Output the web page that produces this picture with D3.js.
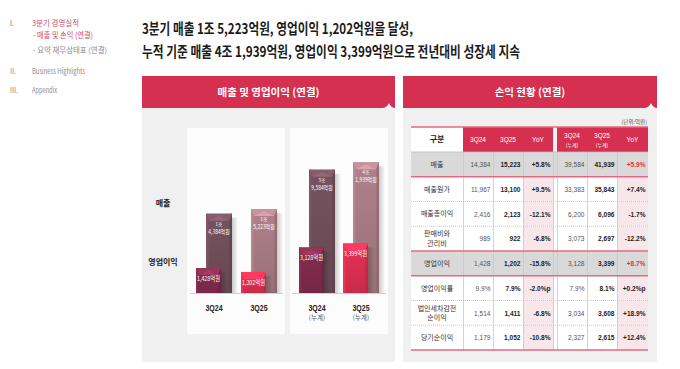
<!DOCTYPE html>
<html><head><meta charset="utf-8">
<script src="https://cdn.jsdelivr.net/npm/d3@7"></script>
<style>
body{margin:0;background:#fff;}
svg{display:block;font-family:"Noto Sans CJK KR","Noto Sans",sans-serif;}
.num{font-family:"Liberation Sans",Arial,sans-serif;}
</style>
</head><body><svg id="c" width="680" height="369"></svg>
<script>
// ---------- DATA ----------
const barCategories = ["3Q24", "3Q25", "3Q24", "3Q25"];
const barSubLabels = ["", "", "(누계)", "(누계)"];
const revenue = [14384, 15223, 39584, 41939];
const operatingProfit = [1428, 1202, 3128, 3399];
const revenueLabelTop = ["1조", "1조", "3조", "4조"];
const revenueLabelBottom = ["4,384억원", "5,223억원", "9,584억원", "1,939억원"];
const opLabels = ["1,428억원", "1,202억원", "3,128억원", "3,399억원"];

const tableHeaders = ["구분", "3Q24", "3Q25", "YoY", "3Q24", "3Q25", "YoY"];
const tableHeaderSubs = ["", "", "", "", "(누계)", "(누계)", ""];
const rowItems = ["매출", "매출원가", "매출총이익", "판매비와\n관리비", "영업이익", "영업이익률", "법인세차감전\n순이익", "당기순이익"];
const col3Q24 = ["14,384", "11,967", "2,416", "989", "1,428", "9.9%", "1,514", "1,179"];
const col3Q25 = ["15,223", "13,100", "2,123", "922", "1,202", "7.9%", "1,411", "1,052"];
const colYoY = ["+5.8%", "+9.5%", "-12.1%", "-6.8%", "-15.8%", "-2.0%p", "-6.8%", "-10.8%"];
const colCum3Q24 = ["39,584", "33,383", "6,200", "3,073", "3,128", "7.9%", "3,034", "2,327"];
const colCum3Q25 = ["41,939", "35,843", "6,096", "2,697", "3,399", "8.1%", "3,608", "2,615"];
const colCumYoY = ["+5.9%", "+7.4%", "-1.7%", "-12.2%", "+8.7%", "+0.2%p", "+18.9%", "+12.4%"];

const navItems = [
  {num: "I.", text: "3분기 경영실적", color: "#cf4a6d"},
  {num: "", text: "- 매출 및 손익 (연결)", color: "#cf4a6d"},
  {num: "", text: "- 요약 재무상태표 (연결)", color: "#8a8a8a"},
  {num: "II.", text: "Business Highlights", color: "#8a8a8a"},
  {num: "III.", text: "Appendix", color: "#8a8a8a"}
];
const titleLines = [
  "3분기 매출 1조 5,223억원, 영업이익 1,202억원을 달성,",
  "누적 기준 매출 4조 1,939억원, 영업이익 3,399억원으로 전년대비 성장세 지속"
];

// ---------- DRAW ----------
const svg = d3.select("#c");
const defs = svg.append("defs");
const RED = "#d5304f";

// narrow text helper (horizontally condensed)
function narrow(x, y, txt, size, anchor, opts = {}) {
  const t = svg.append("text").attr("class", opts.cls || "num")
    .attr("transform", `translate(${x},${y}) scale(${opts.sx || 0.82},1)`)
    .attr("text-anchor", anchor).attr("font-size", size)
    .attr("font-weight", opts.bold ? 700 : 400).attr("fill", opts.fill || "#222").text(txt);
  return t;
}

// nav
const navY = [26, 38, 53, 74, 93];
const navX = [32, 33, 33, 32, 32];
const navW = [47, 60, 74, 53, 25];
navItems.forEach((d, i) => {
  if (d.num) svg.append("text").attr("x", 10).attr("y", navY[i]).attr("font-size", 7).attr("fill", d.color).text(d.num);
  svg.append("text").attr("x", navX[i]).attr("y", navY[i]).attr("font-size", 7.5)
    .attr("fill", d.color).attr("textLength", navW[i]).attr("lengthAdjust", "spacingAndGlyphs").text(d.text);
});

// title
const titleW = [271, 378];
titleLines.forEach((t, i) => {
  svg.append("text").attr("x", 142).attr("y", 34 + i * 23).attr("font-size", 14.5).attr("font-weight", 700)
    .attr("fill", "#1b1b1b").attr("textLength", titleW[i]).attr("lengthAdjust", "spacingAndGlyphs").text(t);
});

// panels
function panel(x, w, title) {
  svg.append("rect").attr("x", x).attr("y", 108).attr("width", w).attr("height", 254).attr("fill", "#f0f0f0");
  svg.append("rect").attr("x", x).attr("y", 76).attr("width", w).attr("height", 32).attr("fill", RED);
  svg.append("path").attr("d", `M${x + w - 13},108 Q${x + w - 8},108 ${x + w - 6},103 Q${x + w - 4},108 ${x + w},108 Z`).attr("fill", "#fff");
  svg.append("text").attr("x", x + w / 2).attr("y", 96).attr("text-anchor", "middle").attr("font-size", 10.5)
    .attr("font-weight", 700).attr("fill", "#fff").text(title);
}
panel(142, 253, "매출 및 영업이익 (연결)");
panel(403, 254, "손익 현황 (연결)");

// inner white panels
[[187, 98], [290, 98]].forEach(([x, w]) => {
  svg.append("rect").attr("x", x).attr("y", 128).attr("width", w).attr("height", 206).attr("fill", "#fcfcfc");
});
const base = 293;
[[190, 93], [292, 94]].forEach(([x, w]) => {
  svg.append("line").attr("x1", x).attr("x2", x + w).attr("y1", base + 0.5).attr("y2", base + 0.5).attr("stroke", "#cfcfcf");
});

svg.append("text").attr("x", 163).attr("y", 206).attr("text-anchor", "middle").attr("font-size", 8).attr("font-weight", 700).attr("fill", "#222").text("매출");
svg.append("text").attr("x", 163).attr("y", 265).attr("text-anchor", "middle").attr("font-size", 8).attr("font-weight", 700).attr("fill", "#222").text("영업이익");

// scales
const xQ = d3.scalePoint().domain([0, 1]).range([214, 259]);
const xC = d3.scalePoint().domain([2, 3]).range([317, 361]);
const xPos = i => (i < 2 ? xQ(i) : xC(i));
const yRevQ = d3.scaleLinear().domain([0, 15600]).range([base, 207]);
const yRevC = d3.scaleLinear().domain([0, 43000]).range([base, 159]);
const yOpQ = d3.scaleLinear().domain([0, 1428]).range([base, 268]);
const yOpC = d3.scaleLinear().domain([0, 3500]).range([base, 242]);
const yRev = i => (i < 2 ? yRevQ : yRevC)(revenue[i]);
const yOp = i => (i < 2 ? yOpQ : yOpC)(operatingProfit[i]);

const revColors = ["#6c4b57", "#a1767f", "#6c4b57", "#a1767f"];
const opColors = ["#7b2949", "#d42d4d", "#7b2949", "#d42d4d"];

// shadow gradient
const sg = defs.append("linearGradient").attr("id", "shadow");
sg.append("stop").attr("offset", 0).attr("stop-color", "#000").attr("stop-opacity", 0.2);
sg.append("stop").attr("offset", 1).attr("stop-color", "#000").attr("stop-opacity", 0);

let gid = 0;
function bar(x0, w, top, color) {
  const id = "g" + (gid++);
  const c = d3.color(color);
  const gr = defs.append("linearGradient").attr("id", id).attr("x1", 0).attr("x2", 0).attr("y1", 0).attr("y2", 1);
  gr.append("stop").attr("offset", 0).attr("stop-color", c.brighter(0.25));
  gr.append("stop").attr("offset", 1).attr("stop-color", c.darker(0.15));
  const x1 = x0 + w, b = 7;
  svg.append("rect").attr("x", x1).attr("y", top + 4).attr("width", 6).attr("height", base - top - 4).attr("fill", "url(#shadow)");
  svg.append("rect").attr("x", x0).attr("y", top).attr("width", w).attr("height", base - top).attr("fill", `url(#${id})`);
  svg.append("rect").attr("x", x0).attr("y", top).attr("width", 2.5).attr("height", base - top).attr("fill", c.brighter(0.5)).attr("opacity", 0.6);
  svg.append("rect").attr("x", x1 - 2.5).attr("y", top).attr("width", 2.5).attr("height", base - top).attr("fill", c.darker(0.5)).attr("opacity", 0.6);
  svg.append("path").attr("d", `M${x0},${top}L${x1},${top}L${x1 - 3},${top + b}L${x0 + 3},${top + b}Z`).attr("fill", c.brighter(0.6));
  svg.append("path").attr("d", `M${x0 + 3},${top + b}L${x0 + w / 2},${top + 2}L${x1 - 3},${top + b}Z`).attr("fill", c.brighter(1.0)).attr("opacity", 0.7);
}

revenue.forEach((v, i) => {
  const cx = xPos(i);
  // revenue bar (behind)
  const rx = cx - 8, rw = 26, rt = yRev(i);
  bar(rx, rw, rt, revColors[i]);
  svg.append("text").attr("x", rx + rw / 2).attr("y", rt + 12).attr("text-anchor", "middle").attr("font-size", 5).attr("fill", "#fff").text(revenueLabelTop[i]);
  narrow(rx + rw / 2, rt + 20, revenueLabelBottom[i], 6, "middle", {fill: "#fff", cls: "lbl"});
  // op bar (front)
  const ox = cx - 18, ow = 25, ot = yOp(i);
  bar(ox, ow, ot, opColors[i]);
  narrow(ox + ow / 2, Math.min(ot + 13, (ot + base) / 2 + 3), opLabels[i], 6.5, "middle", {fill: "#fff", cls: "lbl"});
  // category labels
  narrow(cx, 311, barCategories[i], 8.5, "middle", {bold: true, fill: "#222"});
  if (barSubLabels[i]) svg.append("text").attr("x", cx).attr("y", 320).attr("text-anchor", "middle").attr("font-size", 6.5).attr("fill", "#555").text(barSubLabels[i]);
});

// ---------- TABLE ----------
const colEdges = [[411, 463], [463, 493], [493, 523], [523, 553], [557, 587], [587, 617], [617, 648]];
const tTop = 127, hBottom = 152;
const rowScale = d3.scaleBand().domain(d3.range(rowItems.length)).range([hBottom, 350]);
const columns = [rowItems, col3Q24, col3Q25, colYoY, colCum3Q24, colCum3Q25, colCumYoY];
const grayRows = [0, 4];

svg.append("text").attr("x", 647).attr("y", 124).attr("text-anchor", "end").attr("font-size", 5.5).attr("fill", "#555").text("(단위:억원)");

// body backgrounds
rowItems.forEach((r, i) => {
  const y = rowScale(i), h = rowScale.bandwidth();
  const gray = grayRows.includes(i);
  svg.append("rect").attr("x", 411).attr("y", y).attr("width", 237).attr("height", h).attr("fill", gray ? "#d9d9d9" : "#fff");
  if (!gray) {
    [3, 6].forEach(c => {
      svg.append("rect").attr("x", colEdges[c][0]).attr("y", y).attr("width", colEdges[c][1] - colEdges[c][0]).attr("height", h).attr("fill", "#f7e7ea");
    });
  }
});
// header
colEdges.forEach(([a, b], c) => {
  svg.append("rect").attr("x", a).attr("y", tTop).attr("width", b - a).attr("height", hBottom - tTop).attr("fill", c === 0 ? "#fff" : RED);
  const cx = (a + b) / 2;
  if (c === 0) {
    svg.append("text").attr("x", cx).attr("y", 142).attr("text-anchor", "middle").attr("font-size", 8).attr("font-weight", 700).attr("fill", "#222").text(tableHeaders[c]);
  } else if (tableHeaderSubs[c]) {
    narrow(cx, 138, tableHeaders[c], 8, "middle", {fill: "#fff"});
    svg.append("text").attr("x", cx).attr("y", 146.5).attr("text-anchor", "middle").attr("font-size", 5).attr("fill", "#fff").text(tableHeaderSubs[c]);
  } else {
    narrow(cx, 142, tableHeaders[c], 8, "middle", {fill: "#fff"});
  }
});
// vertical lines in body
colEdges.slice(1).forEach(([a]) => {
  svg.append("line").attr("x1", a + 0.5).attr("x2", a + 0.5).attr("y1", hBottom).attr("y2", 350).attr("stroke", "#c8c8c8").attr("stroke-width", 0.8);
});
svg.append("line").attr("x1", 553.5).attr("x2", 553.5).attr("y1", hBottom).attr("y2", 350).attr("stroke", "#c8c8c8").attr("stroke-width", 0.8);
svg.append("line").attr("x1", 411).attr("x2", 648).attr("y1", hBottom).attr("y2", hBottom).attr("stroke", "#bbb").attr("stroke-width", 0.8);
// horizontal lines
const redAfter = [0, 3, 4, 7];
rowItems.forEach((r, i) => {
  const y = rowScale(i) + rowScale.bandwidth();
  if (redAfter.includes(i)) {
    svg.append("line").attr("x1", 411).attr("x2", 648).attr("y1", y).attr("y2", y).attr("stroke", "#e26a80").attr("stroke-width", 1.5);
  } else {
    svg.append("line").attr("x1", 411).attr("x2", 648).attr("y1", y).attr("y2", y).attr("stroke", "#b8b8b8").attr("stroke-width", 0.7).attr("stroke-dasharray", "1,1");
  }
});
svg.append("line").attr("x1", 411).attr("x2", 648).attr("y1", tTop).attr("y2", tTop).attr("stroke", "#e26a80").attr("stroke-width", 1.5);

// cell texts
columns.forEach((col, c) => {
  const [a, b] = colEdges[c];
  col.forEach((v, i) => {
    const cy = rowScale(i) + rowScale.bandwidth() / 2;
    if (c === 0) {
      const parts = v.split("\n");
      parts.forEach((p, k) => {
        svg.append("text").attr("x", (a + b) / 2).attr("y", cy + 2.5 + (k - (parts.length - 1) / 2) * 9.5)
          .attr("text-anchor", "middle").attr("font-size", 7).attr("fill", "#333").text(p);
      });
    } else {
      const bold = c === 2 || c === 3 || c === 5 || c === 6;
      const red = c === 6 && grayRows.includes(i);
      narrow(b - 2.5, cy + 2.8, v, 8, "end", {bold, fill: red ? "#ee2a3c" : (bold ? "#222" : "#555")});
    }
  });
});
</script>
</body></html>
